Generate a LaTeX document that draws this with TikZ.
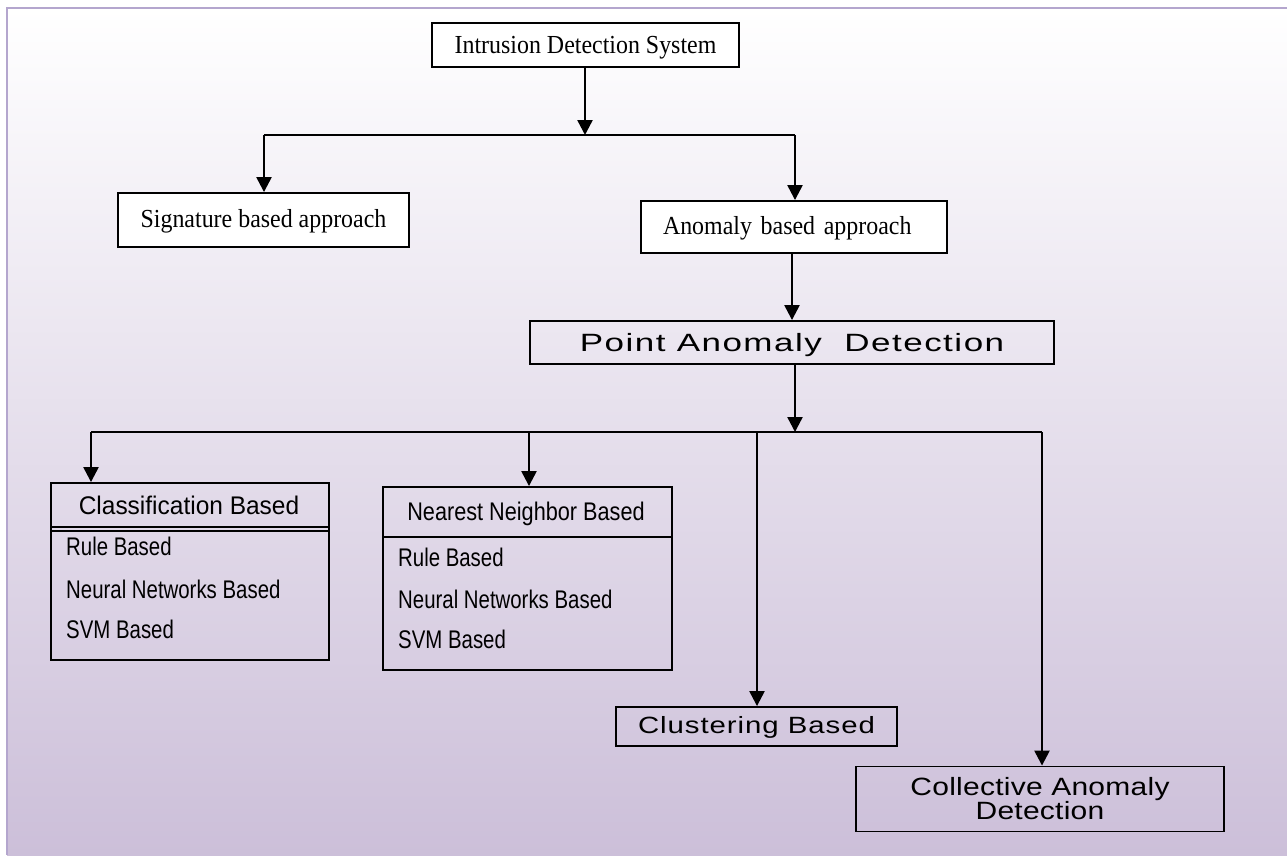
\documentclass[tikz,border=0pt]{standalone}
\usepackage{fontspec}
\setmainfont{Liberation Serif}[FakeStretch=0.92]
\newfontfamily\arialN[FakeStretch=0.8]{Liberation Sans}
\newfontfamily\arialNH[FakeStretch=0.85]{Liberation Sans}
\newfontfamily\arialCH[FakeStretch=0.96]{Liberation Sans}
\newfontfamily\arialPAD[FakeStretch=1.4,LetterSpace=6]{Liberation Sans}
\newfontfamily\arialCL[FakeStretch=1.25,LetterSpace=4]{Liberation Sans}
\newfontfamily\arialCO[FakeStretch=1.2,LetterSpace=1]{Liberation Sans}
\usetikzlibrary{arrows.meta}
\definecolor{framecol}{HTML}{B4A6CE}
\definecolor{bgbottom}{HTML}{CCBFD9}
\begin{document}
\begin{tikzpicture}[x=1pt,y=-1pt,
  box/.style={draw=black, line width=1.9pt, inner sep=0pt},
  wbox/.style={box, fill=white},
  conn/.style={line width=1.8pt},
  arr/.style={line width=2.4pt, -{Triangle[width=15pt,length=15pt]}},
  times/.style={font=\fontsize{26}{30}\selectfont},
  lbl/.style={inner sep=0pt, anchor=base},
  item/.style={inner sep=0pt, anchor=base west, font=\fontsize{25.5}{28}\selectfont\arialN},
]
\useasboundingbox (0,0) rectangle (1287,855);
\fill[white] (0,0) rectangle (1287,855);
\shade[top color=white, bottom color=bgbottom] (7,8) rectangle (1287,855);
\draw[framecol, line width=2.5pt] (7,855) -- (7,8) -- (1287,8);

% top level
\node[wbox, times, minimum width=307pt, minimum height=44pt, text height=17pt, text depth=0pt] (ids) at (585.5,45) {Intrusion Detection System};
\node[wbox, times, minimum width=291pt, minimum height=54pt, text height=17pt, text depth=3pt] (sig) at (263.5,220) {Signature based approach};
\node[wbox, times, text width=262pt, inner xsep=22pt, minimum height=52pt, text height=17pt, text depth=3pt] (anom) at (794,227) {\mbox{Anomaly based approach}\hfill};
\node[box, minimum width=524pt, minimum height=43pt, text height=18pt, text depth=1pt, font=\fontsize{25}{28}\selectfont\arialPAD] (pad) at (792,342.5) {Point Anomaly\ \ Detection};

\coordinate (t1) at (585,135);
\coordinate (tl) at (264,135);
\coordinate (tr) at (795,135);
\draw[conn] (tl) -- (tr);
\draw[arr] (ids.south -| t1) -- (t1);
\draw[arr] (tl) -- (sig.north -| tl);
\draw[arr] (tr) -- (anom.north -| tr);
\draw[arr] (anom.south -| pad.north) -- (pad.north);

% second level
\node[box, minimum width=278pt, minimum height=177pt] (cls) at (190,571.5) {};
\node[box, minimum width=289pt, minimum height=183pt] (nn) at (527.5,578.5) {};
\node[box, minimum width=281pt, minimum height=39pt, text height=17pt, text depth=4pt, font=\fontsize{23.5}{28}\selectfont\arialCL] (clu) at (756.5,726.5) {Clustering Based};
\node[box, minimum width=368pt, minimum height=65pt, align=center, font=\fontsize{25}{24}\selectfont\arialCO] (col) at (1040,799) {Collective Anomaly\\Detection};

\coordinate (b1) at (795,432);
\coordinate (bl) at (91,432);
\coordinate (bn) at (529,432);
\coordinate (bc) at (757,432);
\coordinate (br) at (1042,432);
\draw[arr] (pad.south -| b1) -- (b1);
\draw[conn] (bl) -- (br);
\draw[arr] (bl) -- (cls.north -| bl);
\draw[arr] (bn) -- (nn.north -| bn);
\draw[arr] (bc) -- (clu.north -| bc);
\draw[arr] (br) -- (col.north -| br);

% classification box contents
\draw[line width=1.5pt] (cls.west |- bl) ++(0,95) coordinate (c1) (c1) -- (c1 -| cls.east);
\draw[line width=1.5pt] (cls.west |- bl) ++(0,99) coordinate (c2) (c2) -- (c2 -| cls.east);
\node[lbl, font=\fontsize{25.5}{28}\selectfont\arialCH] (clsh) at (189,514) {Classification Based};
\node[item] (cls1) at (66,555) {Rule Based};
\node[item] (cls2) at (66,598) {Neural Networks Based};
\node[item] (cls3) at (66,638) {SVM Based};

% nearest neighbor box contents
\draw[line width=1.8pt] (nn.west |- bl) ++(0,105) coordinate (n1) (n1) -- (n1 -| nn.east);
\node[lbl, font=\fontsize{25.5}{28}\selectfont\arialNH] (nnh) at (526,520) {Nearest Neighbor Based};
\node[item] (nn1) at (398,566) {Rule Based};
\node[item] (nn2) at (398,608) {Neural Networks Based};
\node[item] (nn3) at (398,648) {SVM Based};
\end{tikzpicture}
\end{document}
